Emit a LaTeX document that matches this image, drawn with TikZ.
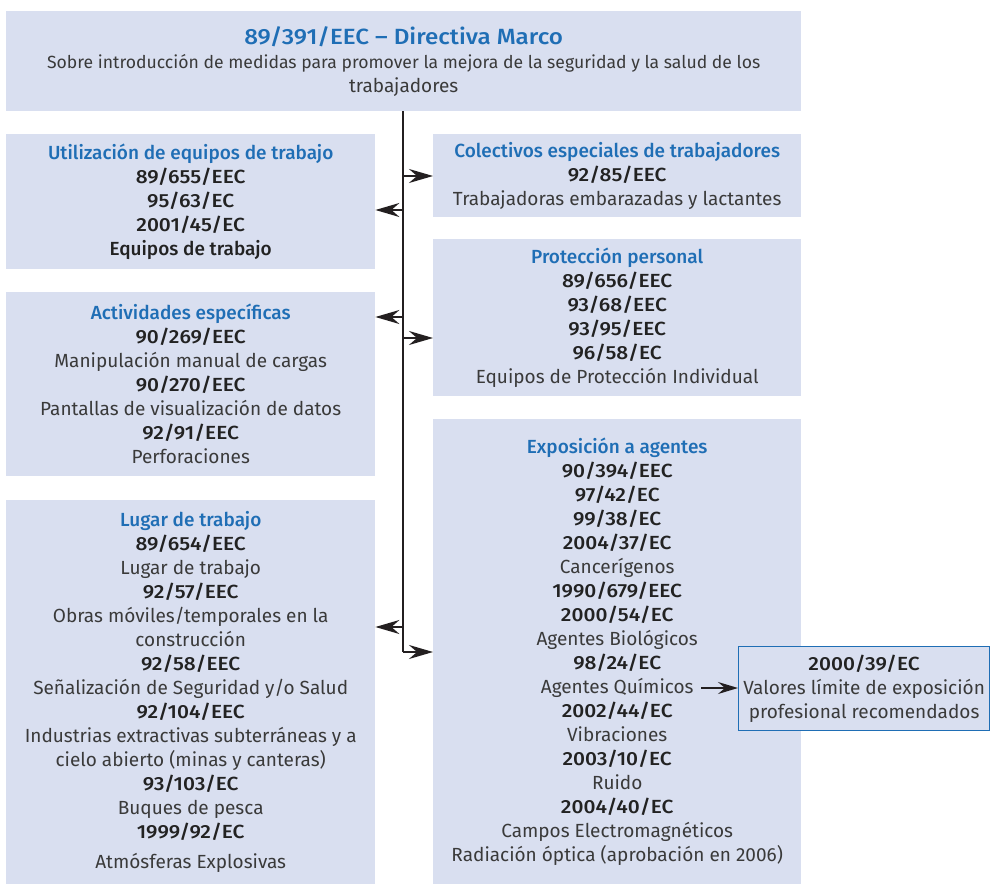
\documentclass[tikz,border=0pt]{standalone}
\usepackage{fontspec}
\setmainfont{Fira Sans}[BoldFont={Fira Sans Medium}]
\newfontfamily\codefont{Fira Sans Medium}[FakeStretch=1.1]
\usetikzlibrary{arrows.meta}
\definecolor{boxfill}{HTML}{D9DFF0}
\definecolor{hblue}{HTML}{1F6EB5}
\definecolor{txt}{HTML}{3A3A3A}
\definecolor{codec}{HTML}{222222}
\definecolor{linec}{HTML}{231F20}
\newcommand{\hd}[1]{{\bfseries\color{hblue}#1}}
\newcommand{\cd}[1]{{\codefont\color{codec}#1}}
\newcommand{\bd}[1]{{\bfseries\color{codec}#1}}
\newcommand{\titlefont}{\fontsize{22}{27}\selectfont}
\newcommand{\subfont}{\fontsize{17.6}{26}\selectfont}
\begin{document}
\begin{tikzpicture}[x=1pt,y=-1pt,
  box/.style={fill=boxfill, draw=none, inner sep=0pt, align=center, text=txt,
    font=\fontsize{19}{24}\selectfont, anchor=north west},
  linkbox/.style={box, fill=boxfill, draw=hblue, line width=1.2pt},
  conn/.style={draw=linec, line width=2pt},
  arr/.style={conn, -{Stealth[length=24pt,width=14pt,inset=8pt]}},
  arrs/.style={conn, -{Stealth[length=20pt,width=12pt,inset=7pt]}}]
\useasboundingbox (0,0) rectangle (990,885);
\fill[white] (0,0) rectangle (990,885);

\node[box, minimum width=795pt, minimum height=100pt] (top) at (6,11)
  {\titlefont\codefont\color{hblue}89/391/EEC – Directiva Marco\\[0pt]
   \subfont\normalfont\color{txt}Sobre introducción de medidas para promover la mejora de la seguridad y la salud de los\\ trabajadores};

\node[box, minimum width=369pt, minimum height=135pt] (equip) at (6,134)
  {\hd{Utilización de equipos de trabajo}\\ \cd{89/655/EEC}\\ \cd{95/63/EC}\\ \cd{2001/45/EC}\\ \bd{Equipos de trabajo}};

\node[box, minimum width=369pt, minimum height=184pt] (activ) at (6,292)
  {\hd{Actividades específicas}\\ \cd{90/269/EEC}\\ Manipulación manual de cargas\\ \cd{90/270/EEC}\\ Pantallas de visualización de datos\\ \cd{92/91/EEC}\\ Perforaciones};

\node[box, minimum width=369pt, minimum height=384pt] (lugar) at (6,500)
  {\hd{Lugar de trabajo}\\ \cd{89/654/EEC}\\ Lugar de trabajo\\ \cd{92/57/EEC}\\ Obras móviles/temporales en la\\ construcción\\ \cd{92/58/EEC}\\ Señalización de Seguridad y/o Salud\\ \cd{92/104/EEC}\\ Industrias extractivas subterráneas y a\\ cielo abierto (minas y canteras)\\ \cd{93/103/EC}\\ Buques de pesca\\ \cd{1999/92/EC}\\[6pt] Atmósferas Explosivas};

\node[box, minimum width=368pt, minimum height=83pt] (colec) at (433,134)
  {\hd{Colectivos especiales de trabajadores}\\ \cd{92/85/EEC}\\ Trabajadoras embarazadas y lactantes};

\node[box, minimum width=368pt, minimum height=157pt] (prot) at (433,239)
  {\hd{Protección personal}\\ \cd{89/656/EEC}\\ \cd{93/68/EEC}\\ \cd{93/95/EEC}\\ \cd{96/58/EC}\\ Equipos de Protección Individual};

\node[box, minimum width=368pt, minimum height=465pt] (expo) at (433,419)
  {\hd{Exposición a agentes}\\ \cd{90/394/EEC}\\ \cd{97/42/EC}\\ \cd{99/38/EC}\\ \cd{2004/37/EC}\\ Cancerígenos\\ \cd{1990/679/EEC}\\ \cd{2000/54/EC}\\ Agentes Biológicos\\ \cd{98/24/EC}\\ Agentes Químicos\\ \cd{2002/44/EC}\\ Vibraciones\\ \cd{2003/10/EC}\\ Ruido\\ \cd{2004/40/EC}\\ Campos Electromagnéticos\\ Radiación óptica (aprobación en 2006)};

\node[linkbox, minimum width=251pt, minimum height=84pt] (valores) at (738,646)
  {\cd{2000/39/EC}\\ Valores límite de exposición\\ profesional recomendados};

% connectors
\coordinate (vend) at (403,652);
\coordinate (a1) at (403,176);
\coordinate (a2) at (403,210);
\coordinate (a3) at (403,317);
\coordinate (a4) at (403,338);
\coordinate (a5) at (403,627);
\coordinate (qstart) at (701,688);
\draw[conn] (top.south -| vend) -- (vend);
\draw[arr] (vend) -- (vend -| expo.west);
\draw[arr] (a1) -- (a1 -| colec.west);
\draw[arr] (a2) -- (a2 -| equip.east);
\draw[arr] (a3) -- (a3 -| activ.east);
\draw[arr] (a4) -- (a4 -| prot.west);
\draw[arr] (a5) -- (a5 -| lugar.east);
\draw[arrs] (qstart) -- (qstart -| valores.west);
\end{tikzpicture}
\end{document}
